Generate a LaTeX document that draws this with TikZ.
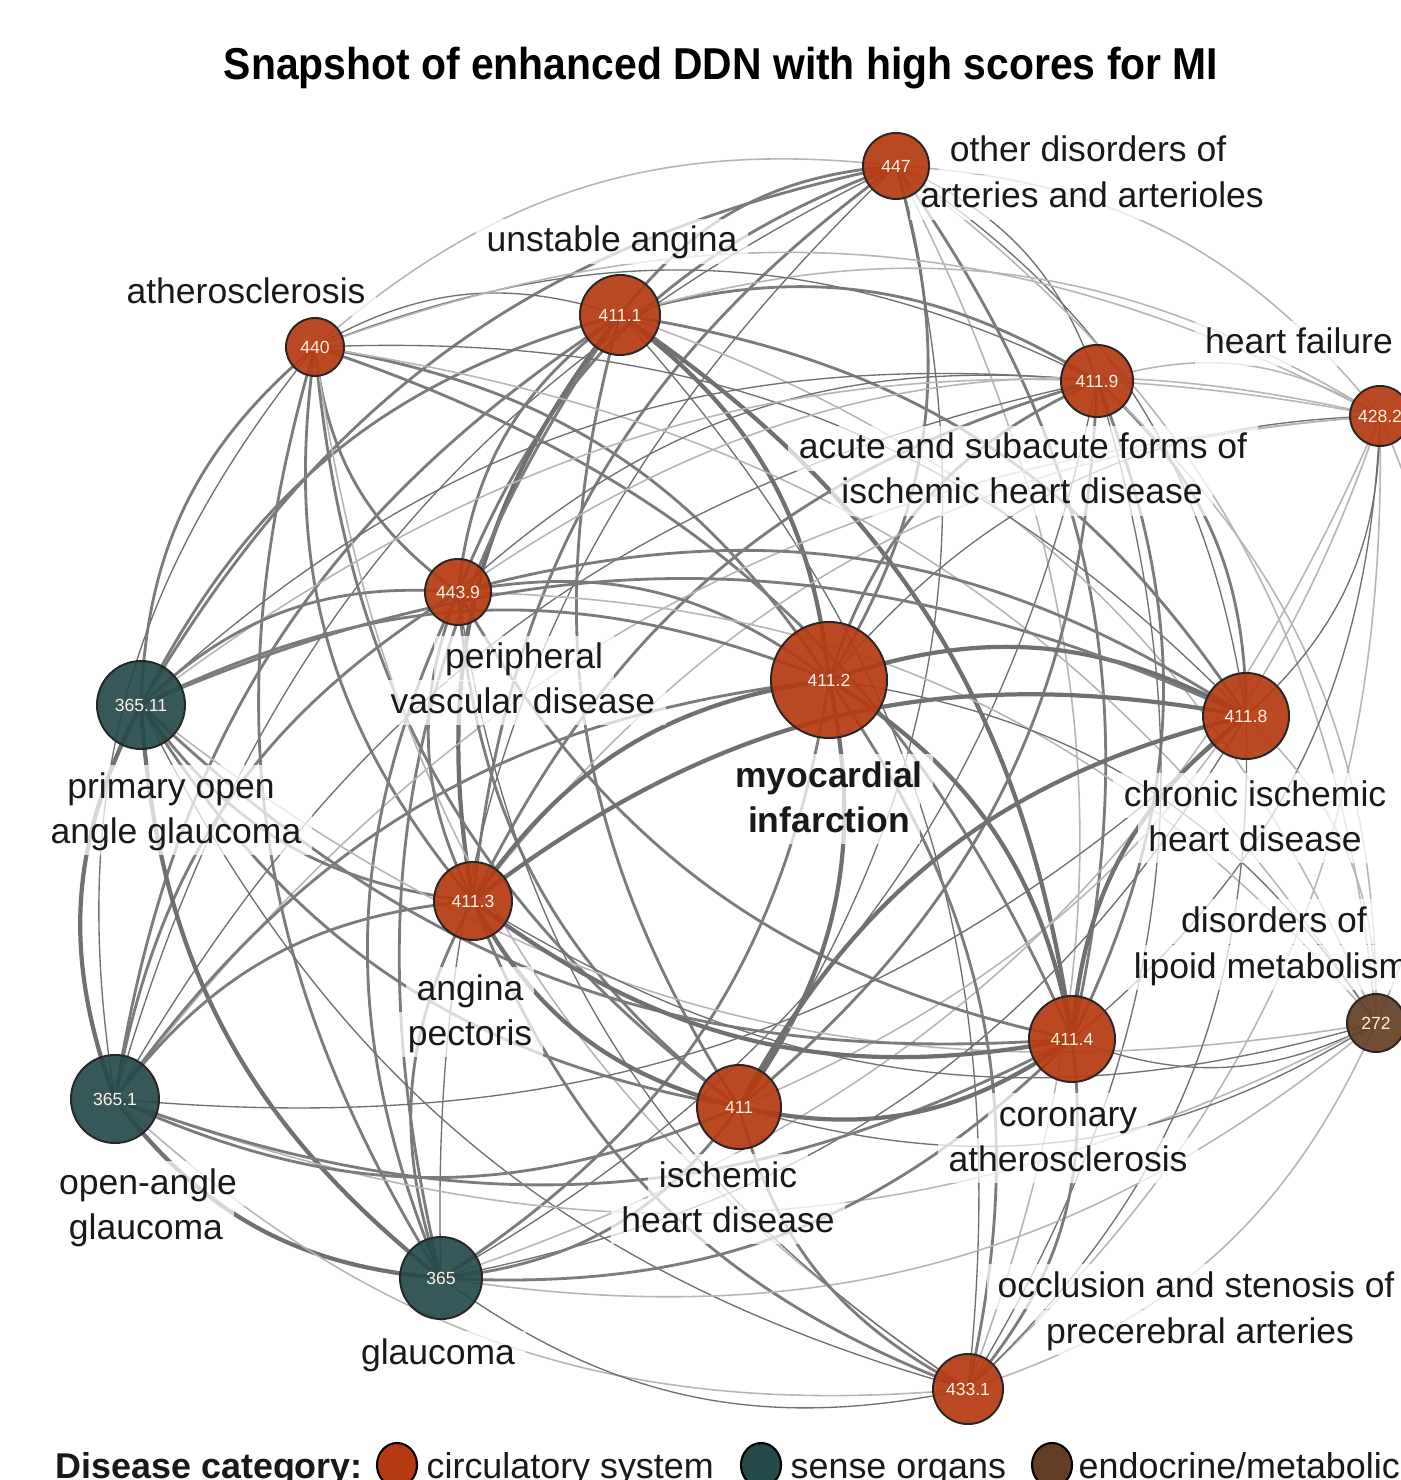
\documentclass[tikz,border=0pt]{standalone}
\usepackage{fontspec}
\usepackage{graphicx}
\setmainfont{Liberation Sans}
\usetikzlibrary{calc,shapes.geometric}

\pgfdeclarelayer{paper}
\pgfdeclarelayer{edges}
\pgfdeclarelayer{labels}
\pgfsetlayers{paper,edges,labels,main}

\definecolor{circ}{RGB}{181,58,18}
\definecolor{sense}{RGB}{38,74,74}
\definecolor{endo}{RGB}{100,62,36}
\definecolor{edgedark}{RGB}{112,112,112}
\definecolor{edgelight}{RGB}{182,182,182}

\tikzset{
  dnode/.style={circle, draw=black!85, line width=0.55pt, inner sep=0pt,
    fill opacity=0.92, text opacity=1, text=white!90!orange,
    font=\fontsize{5}{6}\selectfont},
  circnode/.style={dnode, fill=circ},
  sensenode/.style={dnode, fill=sense},
  endonode/.style={dnode, fill=endo},
  lab/.style={anchor=base, fill=white, fill opacity=0.72, text opacity=1,
    inner xsep=3pt, inner ysep=0pt, text height=9.4pt, text depth=3.4pt,
    text=black!90, font=\fontsize{10.1}{12.8}\selectfont},
  blab/.style={lab, font=\bfseries\fontsize{10.1}{12.8}\selectfont},
  eT/.style={draw=edgedark, line width=1.2pt},
  eM/.style={draw=edgedark!92!white, line width=0.8pt},
  eS/.style={draw=edgedark, line width=0.38pt},
  eL/.style={draw=edgelight, line width=0.45pt},
  legdot/.style={ellipse, draw=black, line width=0.6pt, minimum width=0.4cm,
    minimum height=0.44cm, inner sep=0pt},
  legtext/.style={anchor=base west, inner sep=0pt, text=black!90,
    font=\fontsize{10.2}{12}\selectfont},
}

\begin{document}
\begin{tikzpicture}[x=0.01cm, y=-0.01cm]
\useasboundingbox (0,0) rectangle (1400,1480);
\begin{pgfonlayer}{paper}
\fill[white] (0,0) rectangle (1400,1480);
\end{pgfonlayer}

% disease nodes
\node[circnode,  minimum size=0.66cm] (A) at (896,166)  {447};
\node[circnode,  minimum size=0.80cm] (B) at (620,315)  {411.1};
\node[circnode,  minimum size=0.58cm] (C) at (315,347)  {440};
\node[circnode,  minimum size=0.72cm] (D) at (1097,381) {411.9};
\node[circnode,  minimum size=0.60cm] (E) at (1380,416) {428.2};
\node[circnode,  minimum size=0.66cm] (F) at (458,592)  {443.9};
\node[circnode,  minimum size=1.16cm] (G) at (829,680)  {411.2};
\node[sensenode, minimum size=0.88cm] (H) at (141,705)  {365.11};
\node[circnode,  minimum size=0.86cm] (I) at (1246,716) {411.8};
\node[circnode,  minimum size=0.78cm] (J) at (473,901)  {411.3};
\node[endonode,  minimum size=0.58cm] (K) at (1376,1023) {272};
\node[circnode,  minimum size=0.86cm] (L) at (1072,1039) {411.4};
\node[sensenode, minimum size=0.88cm] (M) at (115,1099) {365.1};
\node[circnode,  minimum size=0.84cm] (N) at (739,1107) {411};
\node[sensenode, minimum size=0.82cm] (O) at (441,1278) {365};
\node[circnode,  minimum size=0.70cm] (P) at (968,1389) {433.1};

% curved connectors; \f = 1 bulges away from the middle of the layout,
% \f = -1 bulges towards it
\begin{pgfonlayer}{edges}
\coordinate (ctr) at (760,760);
\foreach \u/\v/\s/\f in {
  A/B/eM/1, A/C/eL/1, A/D/eS/1, A/E/eL/1, A/F/eM/1, A/G/eM/1, A/H/eM/1, A/I/eS/1,
  A/J/eM/1, A/K/eL/1, A/L/eM/1, A/M/eS/1, A/N/eS/1, A/O/eS/1, A/P/eL/1,
  B/C/eS/1, B/D/eM/1, B/E/eL/1, B/F/eM/1, B/G/eT/1, B/H/eM/1, B/I/eM/1, B/J/eT/1,
  B/K/eL/1, B/L/eT/1, B/M/eM/1, B/N/eM/1, B/O/eM/1, B/P/eS/1,
  C/D/eS/1, C/E/eL/1, C/F/eM/1, C/G/eM/1, C/H/eM/1, C/I/eS/1, C/J/eM/1, C/K/eL/1,
  C/L/eM/1, C/M/eS/1, C/N/eM/1, C/O/eM/1, C/P/eL/1,
  D/E/eL/1, D/F/eS/1, D/G/eM/1, D/H/eS/1, D/I/eM/1, D/J/eM/1, D/K/eL/1, D/L/eM/1,
  D/M/eS/1, D/N/eM/1, D/O/eS/1, D/P/eS/1,
  E/F/eL/1, E/G/eS/1, E/H/eL/1, E/I/eS/1, E/J/eL/1, E/K/eL/1, E/L/eS/1, E/M/eL/1,
  E/N/eL/1, E/O/eL/1, E/P/eL/1,
  F/G/eM/1, F/H/eM/1, F/I/eM/1, F/J/eM/1, F/K/eL/1, F/L/eM/1, F/M/eM/1, F/N/eM/1,
  F/O/eM/1, F/P/eS/1,
  G/H/eM/1, G/I/eT/1, G/J/eT/1, G/K/eS/1, G/L/eT/1, G/M/eM/1, G/N/eT/1, G/O/eM/1, G/P/eM/1,
  H/I/eM/1, H/J/eM/1, H/K/eL/1, H/L/eM/1, H/M/eT/1, H/N/eM/1, H/O/eT/1, H/P/eS/1,
  I/J/eT/-1, I/K/eL/1, I/L/eT/-1, I/M/eS/1, I/N/eT/-1, I/O/eS/1, I/P/eS/1,
  J/K/eS/1, J/L/eT/1, J/M/eM/1, J/N/eT/1, J/O/eM/1, J/P/eM/1,
  K/L/eS/1, K/M/eL/1, K/N/eS/1, K/O/eL/1, K/P/eL/1,
  L/M/eM/1, L/N/eT/1, L/O/eM/1, L/P/eM/1,
  M/N/eM/1, M/O/eT/1, M/P/eL/1,
  N/O/eM/1, N/P/eM/1,
  O/P/eS/1} {
  \path[\s] let \p1=(\u.center), \p2=(\v.center), \p3=(ctr),
    \n1={((\x2-\x1)/10)*((\y3-(\y1+\y2)/2)/10)-((\y2-\y1)/10)*((\x3-(\x1+\x2)/2)/10)},
    \n2={\f*ifthenelse(\n1>0,-24,24)}
    in (\u.center) to[bend left=\n2] (\v.center);
}
\end{pgfonlayer}

% disease names
\begin{pgfonlayer}{labels}
\node[lab] (lA1) at (1088,162) {other disorders of};
\node[lab] (lA2) at (1092,208) {arteries and arterioles};
\node[lab] (lB)  at (612,252)  {unstable angina};
\node[lab] (lC)  at (246,304)  {atherosclerosis};
\node[lab] (lE)  at (1299,354) {heart failure};
\node[lab] (lD1) at (1023,459) {acute and subacute forms of};
\node[lab] (lD2) at (1022,504) {ischemic heart disease};
\node[lab] (lF1) at (524,669)  {peripheral};
\node[lab] (lF2) at (523,713)  {vascular disease};
\node[blab] (lG1) at (829,787) {myocardial};
\node[blab] (lG2) at (829,832) {infarction};
\node[lab] (lH1) at (171,798)  {primary open};
\node[lab] (lH2) at (176,843)  {angle glaucoma};
\node[lab] (lI1) at (1255,806) {chronic ischemic};
\node[lab] (lI2) at (1255,851) {heart disease};
\node[lab] (lK1) at (1274,932) {disorders of};
\node[lab] (lK2) at (1271,978) {lipoid metabolism};
\node[lab] (lJ1) at (470,1000) {angina};
\node[lab] (lJ2) at (470,1045) {pectoris};
\node[lab] (lL1) at (1068,1126) {coronary};
\node[lab] (lL2) at (1068,1171) {atherosclerosis};
\node[lab] (lM1) at (148,1194) {open-angle};
\node[lab] (lM2) at (146,1239) {glaucoma};
\node[lab] (lN1) at (728,1187) {ischemic};
\node[lab] (lN2) at (728,1232) {heart disease};
\node[lab] (lO)  at (438,1364) {glaucoma};
\node[lab] (lP1) at (1196,1297) {occlusion and stenosis of};
\node[lab] (lP2) at (1200,1343) {precerebral arteries};
\end{pgfonlayer}

% title
\node[anchor=base, inner sep=0pt, font=\bfseries\fontsize{12.7}{15}\selectfont]
  (title) at (721,80) {\scalebox{0.915}[1]{Snapshot of enhanced DDN with high scores for MI}};

% legend
\node[legtext, font=\bfseries\fontsize{10.2}{12}\selectfont] (legT) at (55,1478) {Disease category:};
\node[legdot, fill=circ]  (legC) at (397,1465) {};
\node[legtext] (legCt) at (426,1478) {circulatory system};
\node[legdot, fill=sense] (legS) at (761,1465) {};
\node[legtext] (legSt) at (790,1478) {sense organs};
\node[legdot, fill=endo]  (legE) at (1052,1465) {};
\node[legtext] (legEt) at (1078,1478) {endocrine/metabolic};
\end{tikzpicture}
\end{document}
